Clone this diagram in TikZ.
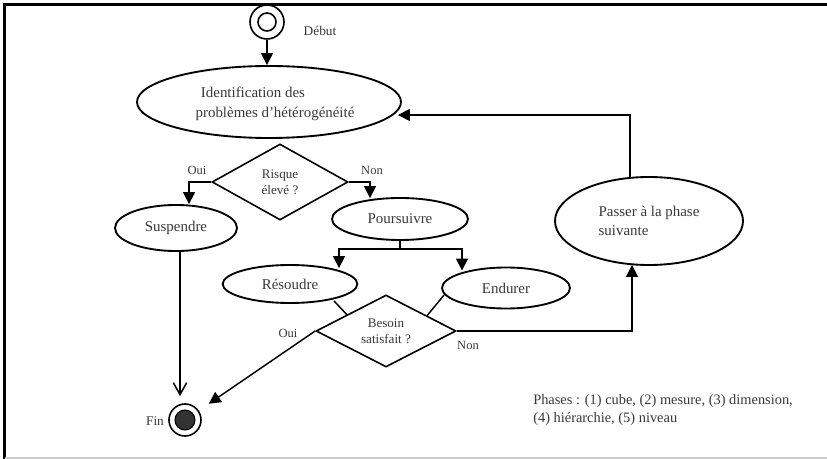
\documentclass[tikz,border=0pt]{standalone}
\usepackage{fontspec}
\setmainfont{Liberation Serif}
\usetikzlibrary{shapes.geometric,arrows.meta,calc}
\begin{document}
\begin{tikzpicture}[x=0.75pt,y=-0.75pt,
  txt/.style={text=black!78, font=\fontsize{11.2pt}{15pt}\selectfont, inner sep=0},
  ell/.style={draw, ellipse, line width=1.4pt, inner sep=0, txt},
  dia/.style={draw, diamond, line width=1.2pt, inner sep=0, shape aspect=1.8, text=black!78, font=\fontsize{9.8pt}{12pt}\selectfont, align=center},
  lbl/.style={text=black!78, font=\fontsize{9.4pt}{11pt}\selectfont, inner sep=0},
  conn/.style={line width=1.1pt},
  arr/.style={conn, -{Triangle[length=9pt,width=9pt]}},
  oarr/.style={conn, -{Straight Barb[length=9pt,width=10pt]}},
  ring/.style={circle, draw, line width=1.2pt, inner sep=0}
]
\useasboundingbox (0,0) rectangle (827,459);
\draw[line width=2.3pt] (4.5,459) -- (4.5,4.5) -- (827,4.5);
\draw[black!20, line width=1.5pt] (4.5,458) -- (827,458);

% nodes
\node[ring, minimum size=25.5pt] (start) at (267,22) {};
\node[ring, minimum size=13.5pt] (startin) at (start) {};
\node[lbl, font=\fontsize{10pt}{12pt}\selectfont] (debut) at (320,31) {Début};

\node[ell, minimum width=198pt, minimum height=54pt] (ident) at (269,102) {};
\node[txt, align=left] (identtxt) at (275,104) {\hspace*{4pt}Identification des\\problèmes d’hétérogénéité};

\node[dia, minimum width=102pt, minimum height=57pt] (risque) at (280,182) {Risque\\élevé ?};
\node[lbl] (oui1) at (197,170) {Oui};
\node[lbl] (non1) at (372,170) {Non};

\node[ell, minimum width=91.5pt, minimum height=34.5pt] (susp) at (176,228) {Suspendre};
\node[ell, minimum width=102pt, minimum height=31.5pt] (pours) at (400,219) {Poursuivre};
\node[ell, minimum width=101pt, minimum height=28.5pt] (reso) at (290,284) {Résoudre};
\node[ell, minimum width=96pt, minimum height=30.75pt] (endu) at (506,288) {Endurer};
\node[dia, minimum width=105pt, minimum height=54pt] (besoin) at (386,331) {Besoin\\satisfait ?};
\node[ell, minimum width=141pt, minimum height=66pt, align=left, font=\fontsize{11.2pt}{14.25pt}\selectfont] (passer) at (649,221) {Passer à la phase\\suivante};

\node[ring, minimum size=24pt] (fin) at (185,420) {};
\node[circle, fill=black!80, draw, line width=0.8pt, minimum size=15pt, inner sep=0] (finin) at (fin) {};
\node[lbl, font=\fontsize{10pt}{12pt}\selectfont] (fintxt) at (155,421) {Fin};
\node[lbl] (oui2) at (288,333) {Oui};
\node[lbl] (non2) at (468,345) {Non};

\node[txt, font=\fontsize{10.8pt}{13.5pt}\selectfont, align=left, anchor=north west] (phases) at (533,394) {Phases : (1) cube, (2) mesure, (3) dimension,\\(4) hiérarchie, (5) niveau};

% connectors
\draw[arr] (start.south) -- (start.south |- ident.north);
\draw[arr] (risque.west) -| ($(susp.north)+(13,0)$);
\draw[arr] (risque.east) -| ($(pours.north)+(-30,1)$);
\draw[conn] (pours.south) -- ++(0,8) coordinate (fork);
\draw[arr] (fork) -| ($(reso.north)+(49,4)$);
\draw[arr] (fork) -| ($(endu.north)+(-44,4)$);
\draw[conn] ($(reso.south)+(44,-3)$) -- ($(besoin.west)+(32,-16)$);
\draw[conn] ($(endu.west)+(3,7)$) -- ($(besoin.east)+(-30,-15)$);
\draw[arr, shorten >=9pt] (besoin.west) -- (fin);
\draw[oarr] ($(susp.south)+(4,0)$) -- ($(fin.north)+(-5,-7)$);
\draw[arr] (besoin.east) -| ($(passer.south)+(-17,-1)$);
\draw[arr] ($(passer.north)+(-19,1)$) |- ($(ident.east)+(-4,13)$);
\end{tikzpicture}
\end{document}
